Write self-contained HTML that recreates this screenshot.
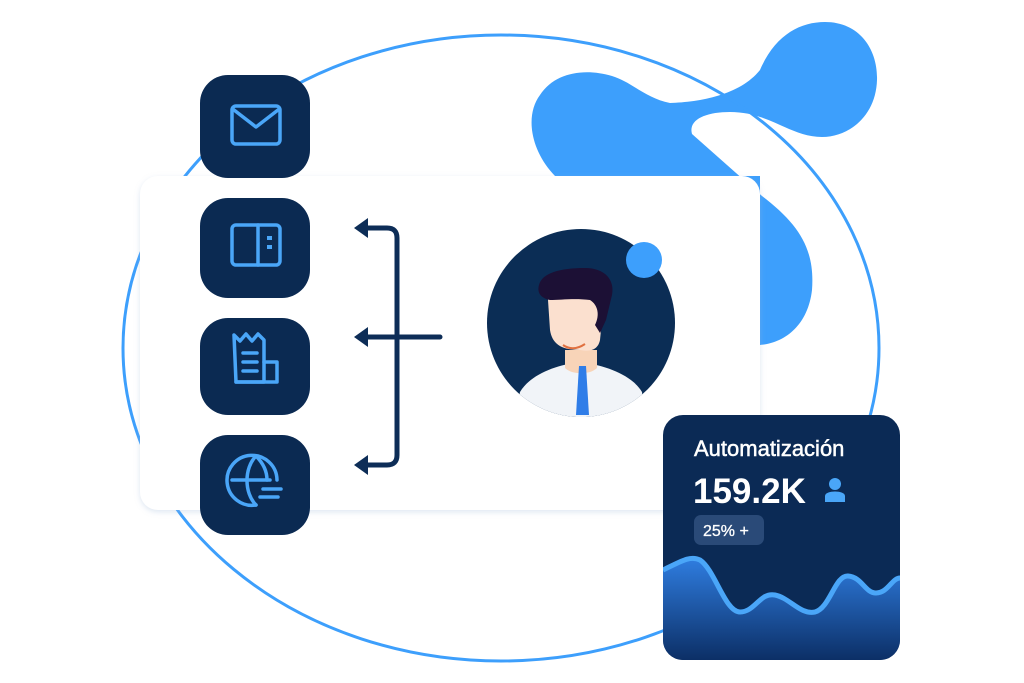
<!DOCTYPE html>
<html><head><meta charset="utf-8"><style>
html,body{margin:0;padding:0;background:#fff;}
body{width:1024px;height:683px;overflow:hidden;position:relative;font-family:"Liberation Sans",sans-serif;}
</style></head><body>
<svg width="1024" height="683" viewBox="0 0 1024 683" xmlns="http://www.w3.org/2000/svg" style="position:absolute;left:0;top:0">
<defs>
<filter id="sh" x="-10%" y="-10%" width="120%" height="130%"><feDropShadow dx="0" dy="2" stdDeviation="3" flood-color="#9fb8d8" flood-opacity="0.35"/></filter>
<linearGradient id="wg" x1="0" y1="0" x2="0" y2="1"><stop offset="0" stop-color="#2f7de0"/><stop offset="1" stop-color="#0c2f66"/></linearGradient>
<clipPath id="cc"><rect x="663" y="415" width="237" height="245" rx="20"/></clipPath>
</defs>
<!-- blob -->
<path d="M555,176 C530,150 525,115 540,95 C555,72 585,68 612,76 C632,82 645,98 670,103 C700,102 740,95 760,70 C775,35 800,22 825,22 C860,22 878,50 877,80 C876,115 850,137 822,137 C790,137 770,112 730,112 C705,112 688,120 692,134 L762,196 C800,225 815,250 812,290 C808,325 785,343 760,345 L760,176 Z" fill="#3d9ffc"/>
<!-- big ellipse -->
<ellipse cx="501" cy="348" rx="378" ry="313" fill="none" stroke="#3d9ffc" stroke-width="3"/>
<!-- card -->
<rect x="140" y="176" width="620" height="334" rx="18" fill="#fff" filter="url(#sh)"/>
<!-- icon boxes -->
<g fill="#0b2a52">
<rect x="200" y="75" width="110" height="103" rx="28"/>
<rect x="200" y="198" width="110" height="100" rx="28"/>
<rect x="200" y="318" width="110" height="97" rx="28"/>
<rect x="200" y="435" width="110" height="100" rx="28"/>
</g>
<g fill="none" stroke="#4aa6f8" stroke-width="3.5" stroke-linejoin="round" stroke-linecap="round">
<rect x="232" y="106" width="48" height="38" rx="4"/>
<path d="M234,110 L256,127 L278,110"/>
<rect x="232" y="225" width="48" height="40" rx="4"/>
<line x1="258" y1="225" x2="258" y2="265"/>
<path d="M234,335 L240,341 L246,334 L252,341 L258,334 L264,340 L264,382 L236,382 Z" fill="none"/>
<path d="M264,362 L277,362 L277,382 L236,382"/>
<line x1="243" y1="353" x2="257" y2="353"/><line x1="243" y1="362" x2="257" y2="362"/><line x1="243" y1="371" x2="257" y2="371"/>
<path d="M277,480 A25,25 0 1 0 256,505"/>
<path d="M256,456 C244,468 244,493 256,505"/>
<path d="M256,456 C264,464 267,472 267,480"/>
<line x1="232" y1="480" x2="270" y2="480"/>
<line x1="263" y1="489" x2="281" y2="489"/><line x1="260" y1="497" x2="278" y2="497"/>
</g>
<g fill="#4aa6f8"><rect x="267" y="236" width="5" height="4"/><rect x="267" y="245" width="5" height="4"/></g>
<!-- arrows -->
<g fill="none" stroke="#0d2d57" stroke-width="5" stroke-linecap="round">
<path d="M362,228 L387,228 Q397,228 397,238 L397,455 Q397,465 387,465 L362,465"/>
<line x1="362" y1="337" x2="440" y2="337"/>
</g>
<g fill="#0d2d57">
<path d="M354,228 L368,218 L368,238 Z"/><path d="M354,337 L368,327 L368,347 Z"/><path d="M354,465 L368,455 L368,475 Z"/>
</g>
<!-- avatar -->
<clipPath id="av"><circle cx="581" cy="323" r="94"/></clipPath>
<circle cx="581" cy="323" r="94" fill="#0b2d55"/>
<g clip-path="url(#av)">
<path d="M520,392 C530,375 555,365 580,362 C605,365 632,375 642,392 L645,420 L515,420 Z" fill="#f1f4f8"/>
<path d="M565,350 L565,368 C572,375 590,375 597,368 L597,350 Z" fill="#f8d4b8"/>
<path d="M548,300 C548,285 560,282 578,282 C596,282 605,295 603,310 L600,340 C598,350 590,352 580,350 C560,350 552,343 550,330 Z" fill="#fbe0cf"/>
<path d="M539,285 C542,273 560,268 585,268 C605,268 615,280 612,295 L606,320 L600,333 L595,325 C600,315 598,305 590,300 C575,298 560,300 550,300 C540,298 537,292 539,285 Z" fill="#1c1035"/>
<path d="M563,345 Q573,352 585,344" stroke="#e07040" stroke-width="2" fill="none"/>
<path d="M579,366 L586,366 L589,415 L576,415 Z" fill="#2f7de8"/>
</g>
<circle cx="644" cy="260" r="18" fill="#3d9ffc"/>
<!-- stats card -->
<rect x="663" y="415" width="237" height="245" rx="20" fill="#0b2a55"/>
<g clip-path="url(#cc)">
<path d="M663,570 C680,562 690,555 700,560 C715,570 725,612 740,612 C755,612 760,592 775,595 C790,598 800,615 815,612 C830,608 835,575 848,576 C862,577 865,593 876,593 C888,593 892,578 900,578 L900,660 L663,660 Z" fill="url(#wg)"/>
<path d="M663,570 C680,562 690,555 700,560 C715,570 725,612 740,612 C755,612 760,592 775,595 C790,598 800,615 815,612 C830,608 835,575 848,576 C862,577 865,593 876,593 C888,593 892,578 900,578" fill="none" stroke="#4aa6f8" stroke-width="5"/>
</g>
<text x="694" y="456" fill="#fff" stroke="#fff" stroke-width="0.5" font-size="22" font-family="Liberation Sans, sans-serif">Automatización</text>
<text x="693" y="503" fill="#fff" font-size="35" font-weight="bold" font-family="Liberation Sans, sans-serif">159.2K</text>
<circle cx="835" cy="484" r="6" fill="#4aa6f8"/>
<path d="M825,502 L825,496 C825,490 845,490 845,496 L845,502 Z" fill="#4aa6f8"/>
<rect x="694" y="515" width="70" height="30" rx="7" fill="#2a4a78"/>
<text x="703" y="536" fill="#fff" stroke="#fff" stroke-width="0.3" font-size="16" font-family="Liberation Sans, sans-serif">25% +</text>
</svg>
</body></html>
